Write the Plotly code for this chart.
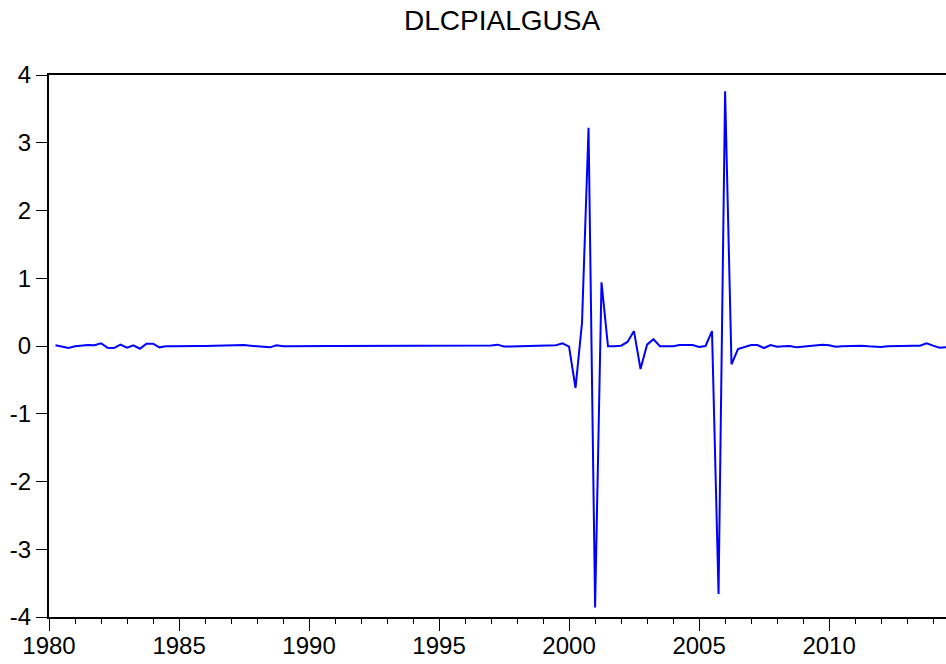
import plotly.graph_objects as go
import pandas as pd

# Quarterly observations, 1980Q2 .. 2014Q3
start_period = "1980-04-01"
series_name = "DLCPIALGUSA"
values = [
    0.01, -0.005, -0.03, -0.005, 0.005, 0.015, 0.01, 0.04, -0.025, -0.03,
    0.02, -0.025, 0.01, -0.04, 0.035, 0.035, -0.02, -0.005, -0.003, 0.0,
    0.0, 0.002, 0.0, 0.0, 0.003, 0.005, 0.005, 0.01, 0.015, 0.015,
    0.005, -0.005, -0.01, -0.02, 0.01, -0.003, -0.002, 0.0, -0.002, 0.003,
    -0.003, 0.002, 0.0, 0.0, 0.0, 0.0, 0.0, 0.0, 0.0, 0.0,
    0.0, 0.0, 0.0, 0.0, 0.0, 0.0, 0.0, 0.0, 0.0, 0.0,
    0.0, 0.0, 0.0, 0.0, 0.0, 0.0, 0.002, 0.008, 0.02, -0.008,
    -0.006, -0.005, -0.004, -0.003, -0.002, 0.0, 0.003, 0.012, 0.04, -0.01,
    -0.62, 0.34, 3.22, -3.86, 0.94, -0.005, -0.003, 0.005, 0.06, 0.22,
    -0.34, 0.02, 0.1, -0.003, -0.003, -0.003, 0.015, 0.01, 0.015, -0.015,
    0.0, 0.22, -3.66, 3.76, -0.27, -0.045, -0.02, 0.015, 0.015, -0.03,
    0.015, -0.01, -0.005, 0.0, -0.02, -0.01, -0.005, 0.0, 0.02, 0.01,
    -0.01, -0.005, 0.0, 0.005, 0.005, -0.005, -0.01, -0.015, -0.005, 0.0,
    0.0, 0.005, 0.005, 0.005, 0.04, 0.005, -0.025, -0.02,
]
y_ticks = [-4, -3, -2, -1, 0, 1, 2, 3, 4]
y_tick_labels = ["-4", "-3", "-2", "-1", "0", "1", "2", "3", "4"]

dates = pd.date_range(start_period, periods=len(values), freq="QS")

FONT = "Liberation Sans, Arial, sans-serif"

fig = go.Figure()
fig.add_trace(go.Scatter(
    x=dates, y=values, mode="lines",
    line=dict(color="#0000FF", width=2),
    showlegend=False, hoverinfo="x+y",
))

fig.update_layout(
    width=946, height=664,
    margin=dict(l=49, r=0, t=75, b=47, autoexpand=False),
    paper_bgcolor="white", plot_bgcolor="white",
    font=dict(family=FONT, color="black", size=24),
    title=dict(text=series_name, xref="container", yref="container",
               x=0.5307, y=0.969, xanchor="center", yanchor="middle",
               font=dict(family=FONT, size=28, color="black")),
)
fig.update_xaxes(
    type="date", automargin=False,
    range=["1980-01-01", "2014-07-01"],
    tick0="1980-01-01", dtick="M60", tickformat="%Y",
    ticks="outside", ticklen=12, tickwidth=1.3, tickcolor="black",
    ticklabelstandoff=-6,
    minor=dict(dtick="M12", ticks="outside", ticklen=5, tickwidth=1, tickcolor="black"),
    showline=True, linecolor="black", linewidth=2, mirror=True,
    showgrid=False, zeroline=False,
    tickfont=dict(family=FONT, size=24, color="black"),
)
fig.update_yaxes(
    automargin=False,
    range=[-4, 4], tickvals=y_ticks, ticktext=y_tick_labels,
    ticks="outside", ticklen=11, tickwidth=1.3, tickcolor="black",
    showline=True, linecolor="black", linewidth=2,
    showgrid=False, zeroline=False,
    tickfont=dict(family=FONT, size=24, color="black"),
)

fig.write_html("out.html", config={"displayModeBar": False},
               post_script="document.body.style.margin='0';")
